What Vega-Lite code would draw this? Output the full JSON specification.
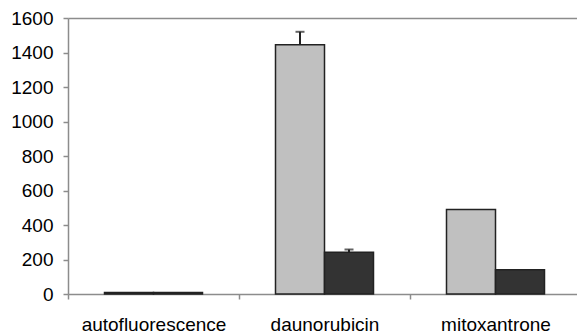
{
  "$schema": "https://vega.github.io/schema/vega-lite/v6.json",
  "autosize": "none",
  "padding": {"left": 68, "top": 18, "right": 0, "bottom": 42},
  "width": 513,
  "height": 276,
  "background": "white",
  "config": {
    "view": {"stroke": null},
    "font": "Liberation Sans",
    "axis": {
      "labelFont": "Liberation Sans",
      "labelFontSize": 19,
      "labelColor": "#000000",
      "domainColor": "#8c8c8c",
      "domainWidth": 1.5,
      "tickColor": "#8c8c8c",
      "tickWidth": 1.5,
      "tickSize": 5,
      "labelOverlap": false,
      "labelBound": false,
      "title": null
    }
  },
  "data": {
    "values": [
      {"cat": "autofluorescence", "series": "A", "value": 8, "upper": null},
      {"cat": "autofluorescence", "series": "B", "value": 8, "upper": null},
      {"cat": "daunorubicin", "series": "A", "value": 1445, "upper": 1520},
      {"cat": "daunorubicin", "series": "B", "value": 242, "upper": 258},
      {"cat": "mitoxantrone", "series": "A", "value": 490, "upper": null},
      {"cat": "mitoxantrone", "series": "B", "value": 140, "upper": null}
    ]
  },
  "encoding": {
    "x": {
      "field": "cat",
      "type": "nominal",
      "sort": null,
      "scale": {"paddingInner": 0, "paddingOuter": 0},
      "axis": {
        "labelAngle": 0,
        "tickBand": "extent",
        "labelPadding": 16,
        "grid": false
      }
    },
    "xOffset": {
      "field": "series",
      "type": "nominal",
      "sort": ["A", "B"],
      "scale": {"paddingInner": 0, "paddingOuter": 0.745}
    }
  },
  "layer": [
    {
      "mark": {"type": "bar", "stroke": "#222222", "strokeWidth": 1.5},
      "encoding": {
        "y": {
          "field": "value",
          "type": "quantitative",
          "scale": {"domain": [0, 1600], "nice": false},
          "axis": {
            "values": [0, 200, 400, 600, 800, 1000, 1200, 1400, 1600],
            "tickCount": 9,
            "format": "d",
            "labelPadding": 10,
            "grid": true,
            "gridColor": "#8c8c8c",
            "gridWidth": 1.5,
            "gridOpacity": {"condition": {"test": "datum.value == 1600", "value": 1}, "value": 0}
          }
        },
        "color": {
          "field": "series",
          "type": "nominal",
          "scale": {"domain": ["A", "B"], "range": ["#c0c0c0", "#333333"]},
          "legend": null
        }
      }
    },
    {
      "transform": [{"filter": "datum.upper != null"}],
      "mark": {"type": "rule", "color": "#222222", "strokeWidth": 2},
      "encoding": {
        "y": {
          "field": "value",
          "type": "quantitative",
          "axis": {
            "values": [0, 200, 400, 600, 800, 1000, 1200, 1400, 1600],
            "tickCount": 9,
            "format": "d",
            "labelPadding": 10,
            "grid": true,
            "gridColor": "#8c8c8c",
            "gridWidth": 1.5,
            "gridOpacity": {"condition": {"test": "datum.value == 1600", "value": 1}, "value": 0}
          }
        },
        "y2": {"field": "upper"}
      }
    },
    {
      "transform": [{"filter": "datum.upper != null"}],
      "mark": {"type": "tick", "color": "#222222", "thickness": 2, "size": 9, "orient": "horizontal"},
      "encoding": {
        "y": {
          "field": "upper",
          "type": "quantitative",
          "axis": {
            "values": [0, 200, 400, 600, 800, 1000, 1200, 1400, 1600],
            "tickCount": 9,
            "format": "d",
            "labelPadding": 10,
            "grid": true,
            "gridColor": "#8c8c8c",
            "gridWidth": 1.5,
            "gridOpacity": {"condition": {"test": "datum.value == 1600", "value": 1}, "value": 0}
          }
        }
      }
    }
  ]
}
